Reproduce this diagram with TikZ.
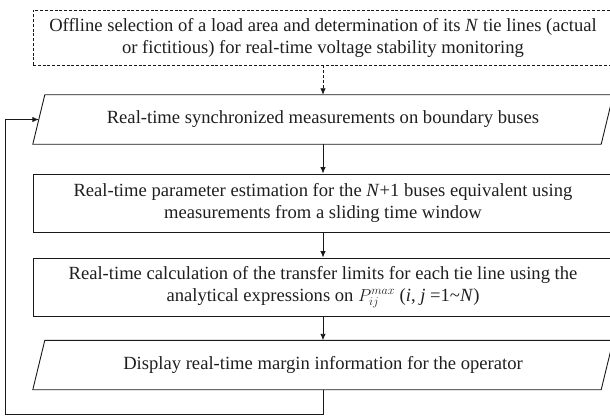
\documentclass[tikz,border=0pt]{standalone}
\usepackage{fontspec}
\setmainfont{Liberation Serif}
\usetikzlibrary{arrows.meta}
\tikzset{
  line/.style={draw=black!90, line width=0.9pt},
  flowbox/.style={line, rectangle, minimum width=580pt, minimum height=58pt, align=center, inner sep=0pt},
  iobox/.style={rectangle, minimum width=568pt, minimum height=49pt, align=center, inner sep=0pt},
  dashbox/.style={line, dash pattern=on 3pt off 1.8pt, rectangle, minimum width=580pt, minimum height=55pt, align=center, inner sep=0pt},
  arr/.style={line, -{Latex[length=6.5pt,width=5.5pt]}},
  txt/.style={font=\fontsize{18.6}{22}\selectfont, text=black!88}
}
\begin{document}
\begin{tikzpicture}[x=1pt,y=-1pt]
\useasboundingbox (0,0) rectangle (610,417);
\node[dashbox, txt] (a) at (323,37.5) {Offline selection of a load area and determination of its \textit{N} tie lines (actual\\or fictitious) for real-time voltage stability monitoring};
\node[iobox, txt] (p1) at (323,119.5) {Real-time synchronized measurements on boundary buses};
\draw[line] ([xshift=-6pt]p1.south west) -- ([xshift=-6pt]p1.south east) -- ([xshift=6pt]p1.north east) -- ([xshift=6pt]p1.north west) -- cycle;
\node[flowbox, txt] (b) at (323,203) {Real-time parameter estimation for the \textit{N}+1 buses equivalent using\\measurements from a sliding time window};
\node[flowbox, txt] (c) at (323,287) {Real-time calculation of the transfer limits for each tie line using the\\analytical expressions on $P_{ij}^{max}$ (\textit{i}, \textit{j} =1\textasciitilde\textit{N})};
\node[iobox, txt] (p4) at (323,365) {Display real-time margin information for the operator};
\draw[line] ([xshift=-6pt]p4.south west) -- ([xshift=-6pt]p4.south east) -- ([xshift=6pt]p4.north east) -- ([xshift=6pt]p4.north west) -- cycle;
\coordinate (lb) at (5,414);
\draw[arr, dash pattern=on 3pt off 1.8pt] (a.south) -- (p1.north);
\draw[arr] (p1.south) -- (b.north);
\draw[arr] (b.south) -- (c.north);
\draw[arr] (c.south) -- (p4.north);
\draw[arr] (p4.south) |- (lb) |- (p1.west);
\end{tikzpicture}
\end{document}
